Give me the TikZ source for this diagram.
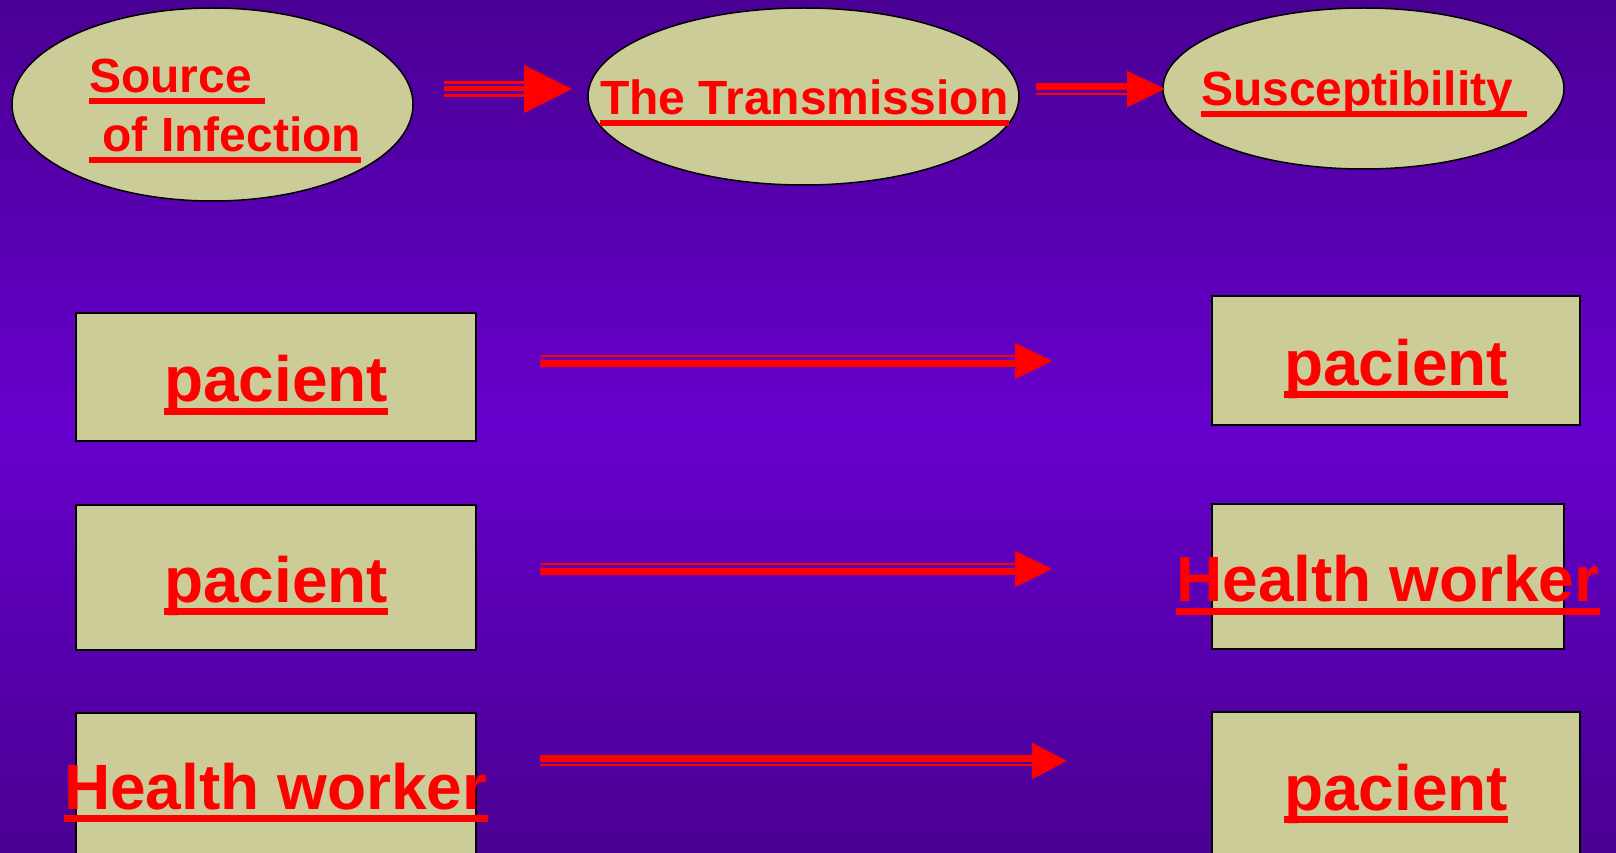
\documentclass[tikz,border=0pt]{standalone}
\usepackage{fontspec}
\setmainfont{Liberation Sans}
\usetikzlibrary{shapes.geometric}
\definecolor{bgtop}{HTML}{4A0094}
\definecolor{bgmid}{HTML}{6600CC}
\definecolor{bgbot}{HTML}{4A0092}
\definecolor{khaki}{HTML}{CCCC99}
\definecolor{txtred}{HTML}{FF0000}
\begin{document}
\begin{tikzpicture}[x=1pt,y=-1pt,
  ell/.style={ellipse, draw=black, line width=1.5pt, fill=khaki, inner sep=0pt, outer sep=0pt},
  box/.style={rectangle, draw=black, line width=2pt, fill=khaki, inner sep=0pt, outer sep=0pt},
  small/.style={font=\bfseries\fontsize{48}{58}\selectfont, text=txtred, inner sep=0pt, anchor=base west},
  big/.style={font=\bfseries\fontsize{64}{70}\selectfont, text=txtred, inner sep=0pt, anchor=base west},
  arr/.style={fill=txtred}
]
\useasboundingbox (0,0) rectangle (1616,853);
\clip (0,0) rectangle (1616,853);
\shade[top color=bgtop, bottom color=bgbot, middle color=bgmid] (0,0) rectangle (1616,853);

% ellipses
\node[ell, minimum width=401, minimum height=193] (e1) at (212.5,104.5) {};
\node[ell, minimum width=431, minimum height=177] (e2) at (803.5,96.5) {};
\node[ell, minimum width=401, minimum height=161] (e3) at (1363.5,88.5) {};

% boxes
\node[box, minimum width=400, minimum height=128] (bL1) at (276,377) {};
\node[box, minimum width=400, minimum height=145] (bL2) at (276,577) {};
\node[box, minimum width=400, minimum height=160] (bL3) at (276,792.7) {};
\node[box, minimum width=368, minimum height=129] (bR1) at (1396,360.7) {};
\node[box, minimum width=352, minimum height=145] (bR2) at (1388,576.5) {};
\node[box, minimum width=368, minimum height=160] (bR3) at (1396,792) {};

% texts
\node[small] (tSrc) at (89,93) {Source\ \null};
\node[small] (tInf) at (89,152) {\null\ of Infection};
\node[small] (tTr) at (600,115) {The Transmission};
\node[small] (tSus) at (1201,106) {Susceptibility\ \null};
\node[big] (tL1) at (164,401.7) {pacient};
\node[big] (tL2) at (164,602) {pacient};
\node[big] (tL3) at (64,809) {Health worker};
\node[big] (tR1) at (1284,385) {pacient};
\node[big] (tR2) at (1176,601.7) {Health worker};
\node[big] (tR3) at (1284,810) {pacient};

% underlines
\foreach \n in {tSrc,tInf,tTr,tSus}
  \fill[txtred] ([yshift=-5.5pt]\n.base west) rectangle ([yshift=-11pt]\n.base east);
\foreach \n in {tL1,tL2,tL3,tR1,tR2,tR3}
  \fill[txtred] ([yshift=-6pt]\n.base west) rectangle ([yshift=-13pt]\n.base east);

% arrow A: source -> transmission
\coordinate (aA0) at (444,89); \coordinate (aA1) at (572,89);
\fill[arr] ([yshift=8pt]aA0) rectangle ([xshift=-48pt,yshift=5.3pt]aA1);
\fill[arr] ([yshift=3pt]aA0) rectangle ([xshift=-48pt,yshift=-2.3pt]aA1);
\fill[arr] ([yshift=-5pt]aA0) rectangle ([xshift=-48pt,yshift=-7.7pt]aA1);
\fill[arr] ([xshift=-48pt,yshift=24pt]aA1) -- (aA1) -- ([xshift=-48pt,yshift=-24pt]aA1) -- cycle;

% arrow B: transmission -> susceptibility
\coordinate (aB0) at (1036,89); \coordinate (aB1) at (1165,89);
\fill[arr] ([yshift=5.7pt]aB0) rectangle ([xshift=-38pt,yshift=-1pt]aB1);
\fill[arr] ([yshift=-3.7pt]aB0) rectangle ([xshift=-38pt,yshift=-6.3pt]aB1);
\fill[arr] ([xshift=-38pt,yshift=18.3pt]aB1) -- (aB1) -- ([xshift=-38pt,yshift=-18.3pt]aB1) -- cycle;

% arrow C
\coordinate (aC0) at (540,361); \coordinate (aC1) at (1052,361);
\fill[arr] ([yshift=6.3pt]aC0) rectangle ([xshift=-37pt,yshift=4.3pt]aC1);
\fill[arr] ([yshift=1.3pt]aC0) rectangle ([xshift=-37pt,yshift=-6pt]aC1);
\fill[arr] ([xshift=-37pt,yshift=18.3pt]aC1) -- (aC1) -- ([xshift=-37pt,yshift=-18.3pt]aC1) -- cycle;

% arrow D
\coordinate (aD0) at (540,569); \coordinate (aD1) at (1052,569);
\fill[arr] ([yshift=6.3pt]aD0) rectangle ([xshift=-37pt,yshift=4.3pt]aD1);
\fill[arr] ([yshift=1.3pt]aD0) rectangle ([xshift=-37pt,yshift=-6pt]aD1);
\fill[arr] ([xshift=-37pt,yshift=18.3pt]aD1) -- (aD1) -- ([xshift=-37pt,yshift=-18.3pt]aD1) -- cycle;

% arrow E
\coordinate (aE0) at (540,761); \coordinate (aE1) at (1067,761);
\fill[arr] ([yshift=6pt]aE0) rectangle ([xshift=-35pt,yshift=-1.3pt]aE1);
\fill[arr] ([yshift=-2.8pt]aE0) rectangle ([xshift=-35pt,yshift=-5.3pt]aE1);
\fill[arr] ([xshift=-35pt,yshift=18.3pt]aE1) -- (aE1) -- ([xshift=-35pt,yshift=-18.3pt]aE1) -- cycle;
\end{tikzpicture}
\end{document}
